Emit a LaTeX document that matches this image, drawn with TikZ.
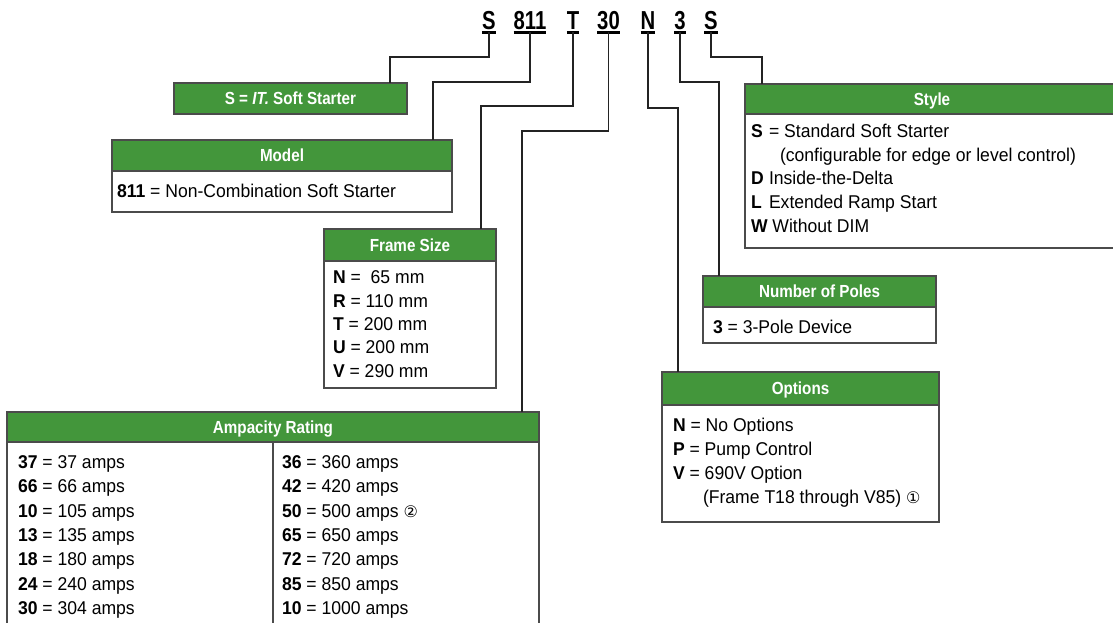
\documentclass[tikz,border=0pt]{standalone}
\usepackage{fontspec}
\setmainfont[FakeStretch=0.95]{Liberation Sans}
\newfontfamily\hdrfont[FakeStretch=0.87]{Liberation Sans}
\newfontfamily\topfont[FakeStretch=0.78]{Liberation Sans}
\newfontfamily\symfont{DejaVu Sans}
\definecolor{hdrgreen}{RGB}{67,150,59}
\definecolor{boxgray}{RGB}{75,75,75}
\definecolor{linegray}{RGB}{35,35,35}
\begin{document}
\begin{tikzpicture}[x=1pt,y=-1pt,
  hdr/.style={draw=boxgray, line width=1.3pt, fill=hdrgreen, text=white,
    font=\hdrfont\bfseries\fontsize{17.5}{20}\selectfont, inner sep=0pt, outer sep=0pt,
    anchor=north west, text height=12.6pt, text depth=0pt},
  bodybox/.style={draw=boxgray, line width=1.3pt, fill=white, inner sep=0pt, outer sep=0pt, anchor=north west},
  txt/.style={font=\fontsize{18.5}{21}\selectfont, inner sep=0pt, outer sep=0pt, anchor=base west, text=black},
  code/.style={font=\topfont\bfseries\fontsize{26}{28}\selectfont, inner sep=0pt, outer sep=0pt, anchor=base},
  uline/.style={line width=2.2pt, draw=black},
  conn/.style={line width=1.3pt, draw=linegray}]
\useasboundingbox (0,0) rectangle (1113,623);
\clip (0,0) rectangle (1113,623);

% ---- code letters
\node[code] (c1) at (489,29.5) {S};
\node[code] (c2) at (530,29.5) {811};
\node[code] (c3) at (573,29.5) {T};
\node[code] (c4) at (608.5,29.5) {30};
\node[code] (c5) at (648,29.5) {N};
\node[code] (c6) at (680,29.5) {3};
\node[code] (c7) at (711,29.5) {S};
\foreach \c in {c1,c2,c3,c4,c5,c6,c7}{
  \draw[uline] ([yshift=-3pt]\c.base west) -- ([yshift=-3pt]\c.base east);
}

% ---- S box
\node[hdr, minimum width=233pt, minimum height=31pt] (sbox) at (174,83) {S = \textit{IT.} Soft Starter};

% ---- Model
\node[bodybox, minimum width=340pt, minimum height=41pt] (modelb) at (112,171) {};
\node[hdr, minimum width=340pt, minimum height=31pt] (model) at (112,140) {Model};
\node[txt] (m1) at (117,197) {\textbf{811} = Non-Combination Soft Starter};

% ---- Frame Size
\node[bodybox, minimum width=172pt, minimum height=127pt] (frameb) at (324,261) {};
\node[hdr, minimum width=172pt, minimum height=32pt] (frame) at (324,229) {Frame Size};
\node[txt] (f1) at (333,283) {\textbf{N} = \hspace{5pt}65 mm};
\node[txt] (f2) at (333,307) {\textbf{R} = 110 mm};
\node[txt] (f3) at (333,330) {\textbf{T} = 200 mm};
\node[txt] (f4) at (333,353) {\textbf{U} = 200 mm};
\node[txt] (f5) at (333,377) {\textbf{V} = 290 mm};

% ---- Ampacity Rating
\node[bodybox, minimum width=532pt, minimum height=198pt] (ampb) at (7,442) {};
\node[hdr, minimum width=532pt, minimum height=30pt] (amp) at (7,412) {Ampacity Rating};
\draw[draw=boxgray, line width=1.3pt] ([xshift=266pt]ampb.north west) -- ([xshift=266pt]ampb.south west);
\node[txt] (al1) at (18,468) {\textbf{37} = 37 amps};
\node[txt] (al2) at (18,492) {\textbf{66} = 66 amps};
\node[txt] (al3) at (18,517) {\textbf{10} = 105 amps};
\node[txt] (al4) at (18,541) {\textbf{13} = 135 amps};
\node[txt] (al5) at (18,565) {\textbf{18} = 180 amps};
\node[txt] (al6) at (18,590) {\textbf{24} = 240 amps};
\node[txt] (al7) at (18,614) {\textbf{30} = 304 amps};
\node[txt] (ar1) at (282,468) {\textbf{36} = 360 amps};
\node[txt] (ar2) at (282,492) {\textbf{42} = 420 amps};
\node[txt] (ar3) at (282,517) {\textbf{50} = 500 amps {\symfont\fontsize{16}{18}\selectfont\char"2461}};
\node[txt] (ar4) at (282,541) {\textbf{65} = 650 amps};
\node[txt] (ar5) at (282,565) {\textbf{72} = 720 amps};
\node[txt] (ar6) at (282,590) {\textbf{85} = 850 amps};
\node[txt] (ar7) at (282,614) {\textbf{10} = 1000 amps};

% ---- Style
\node[bodybox, minimum width=374pt, minimum height=134pt] (styleb) at (745,114) {};
\node[hdr, minimum width=374pt, minimum height=30pt] (style) at (745,84) {Style};
\node[txt] (s1) at (751,137) {\makebox[18pt][l]{\textbf{S}}= Standard Soft Starter};
\node[txt] (s2) at (780,161) {(configurable for edge or level control)};
\node[txt] (s3) at (751,184) {\makebox[18pt][l]{\textbf{D}}Inside-the-Delta};
\node[txt] (s4) at (751,208) {\makebox[18pt][l]{\textbf{L}}Extended Ramp Start};
\node[txt] (s5) at (751,232) {\textbf{W} Without DIM};

% ---- Number of Poles
\node[bodybox, minimum width=233pt, minimum height=36pt] (polesb) at (703,307) {};
\node[hdr, minimum width=233pt, minimum height=31pt] (poles) at (703,276) {Number of Poles};
\node[txt] (p1) at (713,333) {\textbf{3} = 3-Pole Device};

% ---- Options
\node[bodybox, minimum width=277pt, minimum height=117pt] (optb) at (662,405) {};
\node[hdr, minimum width=277pt, minimum height=33pt] (opt) at (662,372) {Options};
\node[txt] (o1) at (673,431) {\textbf{N} = No Options};
\node[txt] (o2) at (673,455) {\textbf{P} = Pump Control};
\node[txt] (o3) at (673,479) {\textbf{V} = 690V Option};
\node[txt] (o4) at (703,503) {(Frame T18 through V85) {\symfont\fontsize{16}{18}\selectfont\char"2460}};

% ---- connectors
\draw[conn] ([yshift=-3pt]c1.base) -- ++(0,24.5) -| ([xshift=216pt]sbox.north west);
\draw[conn] ([yshift=-3pt]c2.base) -- ++(0,49.5) -| ([xshift=321pt]model.north west);
\draw[conn] ([yshift=-3pt]c3.base) -- ++(0,73.5) -| ([xshift=157pt]frame.north west);
\draw[conn] ([yshift=-3pt]c4.base) -- ++(0,98.5) -| ([xshift=515pt]amp.north west);
\draw[conn] ([yshift=-3pt]c5.base) -- ++(0,75.5) -| ([xshift=16pt]opt.north west);
\draw[conn] ([yshift=-3pt]c6.base) -- ++(0,49.5) -| ([xshift=16pt]poles.north west);
\draw[conn] ([yshift=-3pt]c7.base) -- ++(0,24.5) -| ([xshift=17pt]style.north west);
\end{tikzpicture}
\end{document}
